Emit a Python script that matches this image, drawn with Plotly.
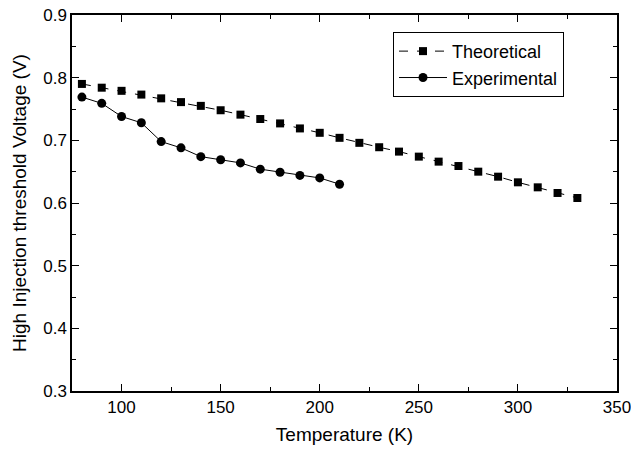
import plotly.graph_objects as go

temp_theo = [80, 90, 100, 110, 120, 130, 140, 150, 160, 170, 180, 190, 200,
             210, 220, 230, 240, 250, 260, 270, 280, 290, 300, 310, 320, 330]
v_theo = [0.790, 0.784, 0.779, 0.773, 0.767, 0.761, 0.755, 0.748, 0.741, 0.734, 0.727, 0.719, 0.712,
          0.704, 0.696, 0.689, 0.682, 0.674, 0.666, 0.659, 0.650, 0.642, 0.633, 0.625, 0.616, 0.608]

temp_exp = [80, 90, 100, 110, 120, 130, 140, 150, 160, 170, 180, 190, 200, 210]
v_exp = [0.769, 0.759, 0.738, 0.728, 0.698, 0.688, 0.674, 0.669, 0.664, 0.654, 0.649, 0.644, 0.640, 0.630]

FONT = "Liberation Sans, Arial, Helvetica, sans-serif"

fig = go.Figure()
fig.add_trace(go.Scatter(
    x=temp_theo, y=v_theo, name="Theoretical", mode="lines+markers",
    line=dict(color="black", width=1, dash="dash"),
    marker=dict(symbol="square", size=8, color="black"),
))
fig.add_trace(go.Scatter(
    x=temp_exp, y=v_exp, name="Experimental", mode="lines+markers",
    line=dict(color="black", width=1),
    marker=dict(symbol="circle", size=9, color="black"),
))

axis_common = dict(
    showline=True, linecolor="black", linewidth=1.5, mirror="ticks",
    ticks="inside", ticklen=7, tickwidth=1.2, tickcolor="black",
    showgrid=False, zeroline=False, automargin=False,
    ticklabeloverflow="allow",
    tickfont=dict(family=FONT, size=17, color="black"),
)

fig.update_layout(
    width=631, height=453,
    margin=dict(l=72, r=14, t=15, b=62),
    plot_bgcolor="white", paper_bgcolor="white",
    font=dict(family=FONT, color="black"),
    showlegend=True,
    legend=dict(
        x=0.589, y=0.955, xanchor="left", yanchor="top",
        bordercolor="black", borderwidth=1, bgcolor="white",
        font=dict(family=FONT, size=18, color="black"),
        tracegroupgap=0, itemwidth=48,
    ),
    xaxis=dict(
        range=[75, 350], tick0=100, dtick=50,
        minor=dict(ticks="inside", ticklen=4, tickcolor="black", dtick=25, tick0=75),
        title=dict(text="Temperature (K)", font=dict(family=FONT, size=19), standoff=12),
        **axis_common,
    ),
    yaxis=dict(
        range=[0.3, 0.9], tick0=0.3, dtick=0.1, tickformat=".1f",
        minor=dict(ticks="inside", ticklen=4, tickcolor="black", dtick=0.05),
        title=dict(text="High Injection threshold Voltage (V)", font=dict(family=FONT, size=19), standoff=12),
        **axis_common,
    ),
)

fig.write_html(
    "out.html",
    config={"displayModeBar": False},
    post_script="document.body.style.margin='0';document.body.style.overflow='hidden';",
)
